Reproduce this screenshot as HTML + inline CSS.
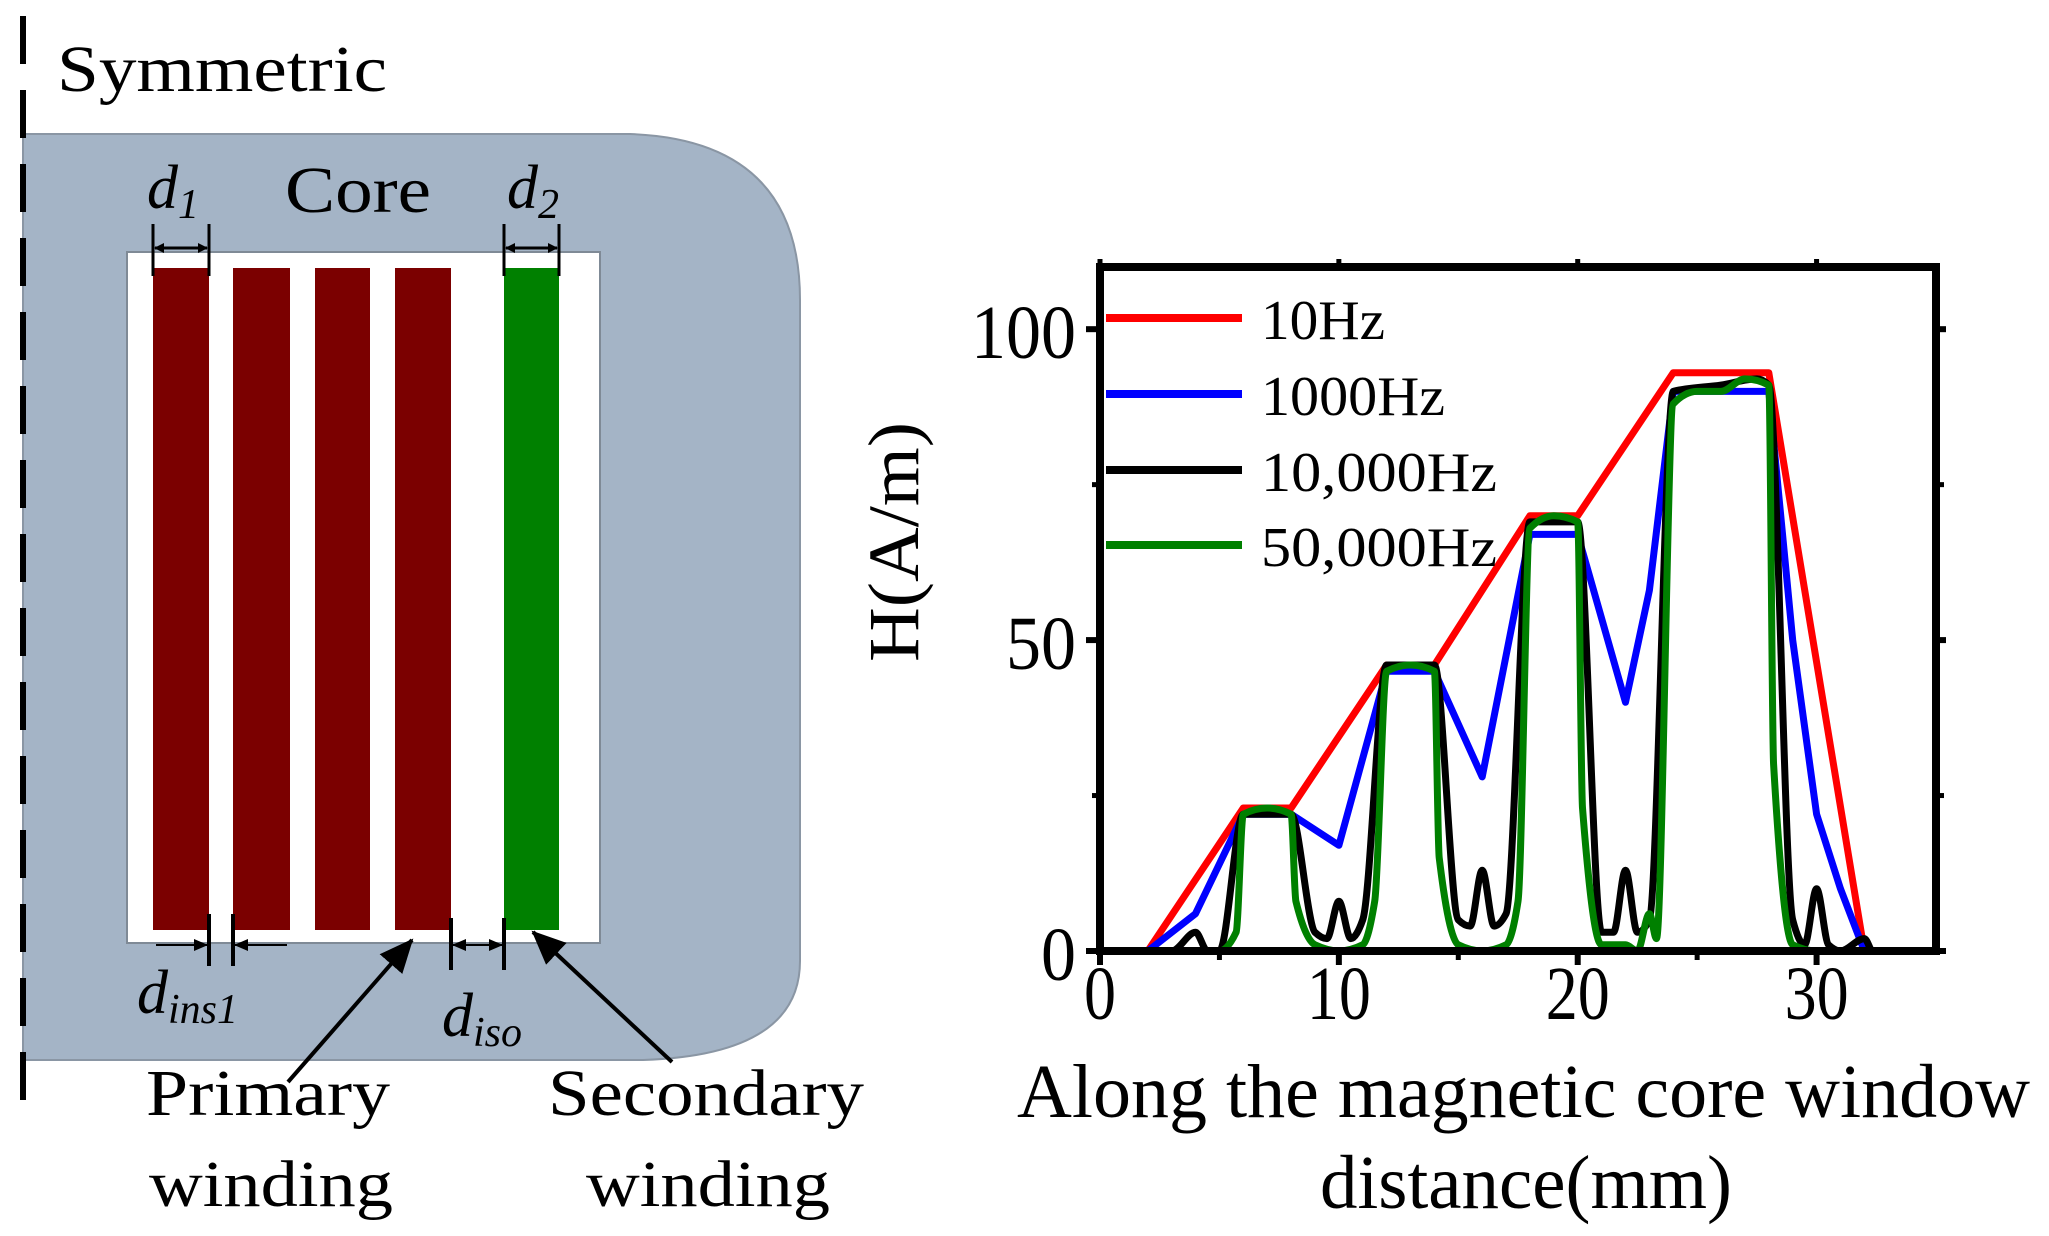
<!DOCTYPE html>
<html><head><meta charset="utf-8"><style>
html,body{margin:0;padding:0;background:#fff;}
svg{display:block;font-family:"Liberation Serif",serif;}
</style></head><body>
<svg width="2049" height="1236" viewBox="0 0 2049 1236">
<defs>
<marker id="ah" markerWidth="10" markerHeight="10" refX="9" refY="5" orient="auto" markerUnits="userSpaceOnUse" viewBox="0 0 10 10">
<path d="M0,0 L10,5 L0,10 z" fill="#000"/></marker>
<marker id="ahs" markerWidth="14" markerHeight="14" refX="13" refY="7" orient="auto" markerUnits="userSpaceOnUse" viewBox="0 0 14 14">
<path d="M0,1 L14,7 L0,13 z" fill="#000"/></marker>
<marker id="ahb" markerWidth="34" markerHeight="30" refX="32" refY="15" orient="auto" markerUnits="userSpaceOnUse" viewBox="0 0 34 30">
<path d="M0,0 L34,15 L0,30 z" fill="#000"/></marker>
</defs>

<g>
<path d="M23,134 L630,134 Q800,140 800,300 L800,961 Q800,1055 643,1060 L23,1060 Z" fill="#a4b4c6" stroke="#8a96a4" stroke-width="2"/>
<rect x="127" y="252" width="473" height="691" fill="#fff" stroke="#7f8a96" stroke-width="2"/>
<rect x="153" y="268" width="56" height="662" fill="#7b0000"/>
<rect x="233" y="268" width="57" height="662" fill="#7b0000"/>
<rect x="315" y="268" width="55" height="662" fill="#7b0000"/>
<rect x="395" y="268" width="56" height="662" fill="#7b0000"/>
<rect x="504" y="268" width="55" height="662" fill="#008000"/>
<line x1="23" y1="16" x2="23" y2="1103" stroke="#000" stroke-width="6" stroke-dasharray="48,26"/>
<text x="57" y="91" font-size="66" textLength="330" lengthAdjust="spacingAndGlyphs">Symmetric</text>
<text x="285" y="212" font-size="66" textLength="146" lengthAdjust="spacingAndGlyphs">Core</text>
<text x="147" y="208" font-size="62" font-style="italic">d<tspan font-size="42" dy="10">1</tspan></text>
<text x="507" y="208" font-size="62" font-style="italic">d<tspan font-size="42" dy="10">2</tspan></text>
<g stroke="#000" stroke-width="3">
<line x1="153" y1="224" x2="153" y2="276"/><line x1="209" y1="224" x2="209" y2="276"/>
<line x1="170" y1="248" x2="155" y2="248" marker-end="url(#ah)"/><line x1="190" y1="248" x2="207" y2="248" marker-end="url(#ah)"/><line x1="165" y1="248" x2="195" y2="248"/>
</g>
<g stroke="#000" stroke-width="3">
<line x1="504" y1="224" x2="504" y2="276"/><line x1="559" y1="224" x2="559" y2="276"/>
<line x1="525" y1="248" x2="506" y2="248" marker-end="url(#ah)"/><line x1="540" y1="248" x2="557" y2="248" marker-end="url(#ah)"/><line x1="520" y1="248" x2="545" y2="248"/>
</g>
<g stroke="#000">
<line x1="209" y1="914" x2="209" y2="966" stroke-width="4"/><line x1="233" y1="914" x2="233" y2="966" stroke-width="4"/>
<line x1="156" y1="945" x2="207" y2="945" stroke-width="2" marker-end="url(#ahs)"/>
<line x1="287" y1="945" x2="235" y2="945" stroke-width="2" marker-end="url(#ahs)"/>
</g>
<g stroke="#000">
<line x1="451" y1="918" x2="451" y2="970" stroke-width="4"/><line x1="504" y1="918" x2="504" y2="970" stroke-width="4"/>
<line x1="478" y1="945" x2="453" y2="945" stroke-width="2" marker-end="url(#ahs)"/>
<line x1="477" y1="945" x2="502" y2="945" stroke-width="2" marker-end="url(#ahs)"/>
</g>
<text x="137" y="1013" font-size="62" font-style="italic">d<tspan font-size="42" dy="10">ins1</tspan></text>
<text x="442" y="1036" font-size="62" font-style="italic">d<tspan font-size="42" dy="10">iso</tspan></text>
<line x1="288" y1="1082" x2="412" y2="940" stroke="#000" stroke-width="4" marker-end="url(#ahb)"/>
<line x1="672" y1="1062" x2="533" y2="932" stroke="#000" stroke-width="4" marker-end="url(#ahb)"/>
<text x="146" y="1115" font-size="66" textLength="244" lengthAdjust="spacingAndGlyphs">Primary</text>
<text x="149" y="1206" font-size="66" textLength="244" lengthAdjust="spacingAndGlyphs">winding</text>
<text x="548" y="1115" font-size="66" textLength="316" lengthAdjust="spacingAndGlyphs">Secondary</text>
<text x="586" y="1206" font-size="66" textLength="244" lengthAdjust="spacingAndGlyphs">winding</text>
</g>

<g id="chart"></g>

<script>
const xTicks = [0, 10, 20, 30];
const xMinor = [5, 15, 25];
const yTicks = [0, 50, 100];
const yMinor = [25, 75];
const seriesNames = ["10Hz", "1000Hz", "10,000Hz", "50,000Hz"];
const seriesColors = ["#ff0000", "#0000ff", "#000000", "#008000"];
const redX = [2, 6, 8, 12, 14, 18, 20, 24, 28, 32, 34];
const redY = [0, 23, 23, 46, 46, 70, 70, 93, 93, 0, 0];
const blueX = [2, 4, 6, 8, 10, 12, 14, 16, 18, 20, 22, 23, 24, 28, 29, 30, 31, 32];
const blueY = [0, 6, 22, 22, 17, 45, 45, 28, 67, 67, 40, 58, 90, 90, 50, 22, 10, 0];
const blackX = [2.3, 3, 4, 4.5, 5, 6, 8, 9, 9.5, 10, 10.5, 11, 12, 14, 15, 15.5, 16, 16.5, 17, 18, 20, 21, 21.5, 22, 22.5, 23, 24, 26, 27.5, 28, 29, 29.5, 30, 30.5, 31, 32, 32.3];
const blackY = [0, 0, 3, 0, 0, 22, 22, 3, 2, 8, 2, 5, 46, 46, 5, 4, 13, 4, 6, 69, 69, 3, 3, 13, 3, 5, 90, 91, 92, 91, 5, 1, 10, 1, 0, 2, 0];
const greenX = [2, 5, 5.7, 6, 7, 8, 8.2, 9, 10, 11, 11.5, 12, 13, 14, 14.2, 15, 16, 17, 17.5, 18, 19, 20, 20.2, 21, 22, 22.5, 23, 23.3, 24, 25, 26, 27, 28, 28.2, 29, 30, 34];
const greenY = [0, 0, 3, 22, 23, 22, 8, 1, 0, 1, 8, 45, 46, 45, 15, 1, 0, 1, 8, 68, 70, 69, 23, 1, 1, 0, 6, 2, 88, 90, 90, 92, 91, 30, 1, 0, 0];

const L = 1100, R = 1936, T = 267, B = 951, XMAX = 35, YMAX = 110;
const sx = v => L + v / XMAX * (R - L);
const sy = v => B - v / YMAX * (B - T);
const NS = "http://www.w3.org/2000/svg";
const chart = document.getElementById("chart");
function mk(tag, attrs, parent) {
  const e = document.createElementNS(NS, tag);
  for (const k in attrs) e.setAttribute(k, attrs[k]);
  (parent || chart).appendChild(e);
  return e;
}
function monoPath(xs, ys) {
  const n = xs.length, px = xs.map(sx), py = ys.map(sy);
  const d = [], m = new Array(n);
  for (let i = 0; i < n - 1; i++) d.push((py[i + 1] - py[i]) / (px[i + 1] - px[i]));
  m[0] = d[0]; m[n - 1] = d[n - 2];
  for (let i = 1; i < n - 1; i++) m[i] = (d[i - 1] * d[i] <= 0) ? 0 : 2 / (1 / d[i - 1] + 1 / d[i]);
  let s = "M" + px[0].toFixed(1) + "," + py[0].toFixed(1);
  for (let i = 0; i < n - 1; i++) {
    const h = (px[i + 1] - px[i]) / 3;
    s += " C" + (px[i] + h).toFixed(1) + "," + (py[i] + m[i] * h).toFixed(1) + " " +
      (px[i + 1] - h).toFixed(1) + "," + (py[i + 1] - m[i + 1] * h).toFixed(1) + " " +
      px[i + 1].toFixed(1) + "," + py[i + 1].toFixed(1);
  }
  return s;
}
const allX = [redX, blueX, blackX, greenX];
const allY = [redY, blueY, blackY, greenY];
const clip = mk("clipPath", {id: "pc"});
mk("rect", {x: L, y: T, width: R - L, height: B - T}, clip);
const sg = mk("g", {"clip-path": "url(#pc)"});


for (let s = 0; s < 4; s++) {
  const attrs = {fill: "none", stroke: seriesColors[s], "stroke-width": 7, "stroke-linejoin": "round"};
  let p;
  if (s <= 1) {
    attrs.points = allX[s].map((x, i) => sx(x).toFixed(1) + "," + sy(allY[s][i]).toFixed(1)).join(" ");
    p = mk("polyline", attrs, sg);
  } else {
    attrs.d = monoPath(allX[s], allY[s]);
    p = mk("path", attrs, sg);
  }
  
  
}
const frame = mk("rect", {x: L, y: T, width: R - L, height: B - T, fill: "none", stroke: "#000", "stroke-width": 8});


xTicks.forEach(v => {
  const t = mk("line", {x1: sx(v), x2: sx(v), y1: B, y2: B + 14, stroke: "#000", "stroke-width": 6});
  
  
  const t2 = mk("line", {x1: sx(v), x2: sx(v), y1: T, y2: T - 8, stroke: "#000", "stroke-width": 5});
  
  
  const lb = mk("text", {x: sx(v), y: 1019, "font-size": 76, "text-anchor": "middle", textLength: String(v).length * 32, lengthAdjust: "spacingAndGlyphs"});
  lb.textContent = v;
  
  
});
xMinor.forEach(v => {
  const t = mk("line", {x1: sx(v), x2: sx(v), y1: B, y2: B + 9, stroke: "#000", "stroke-width": 5});
  
  
});
yTicks.forEach(v => {
  const t = mk("line", {x1: L - 14, x2: L, y1: sy(v), y2: sy(v), stroke: "#000", "stroke-width": 6});
  
  
  const t2 = mk("line", {x1: R, x2: R + 10, y1: sy(v), y2: sy(v), stroke: "#000", "stroke-width": 6});
  
  
  const lb = mk("text", {x: 1076, y: sy(v) + 29, "font-size": 76, "text-anchor": "end", textLength: String(v).length * 35, lengthAdjust: "spacingAndGlyphs"});
  lb.textContent = v;
  
  
});
yMinor.forEach(v => {
  const t = mk("line", {x1: L - 8, x2: L, y1: sy(v), y2: sy(v), stroke: "#000", "stroke-width": 5});
  
  
  const t2 = mk("line", {x1: R, x2: R + 8, y1: sy(v), y2: sy(v), stroke: "#000", "stroke-width": 5});
  
  
});
const legY = [318, 394, 470, 545];
const legWidths = [124, 184, 236, 236];
for (let s = 0; s < 4; s++) {
  const ln = mk("line", {x1: 1106, x2: 1242, y1: legY[s], y2: legY[s], stroke: seriesColors[s], "stroke-width": 8});
  
  
  const tx = mk("text", {x: 1261, y: legY[s] + 21, "font-size": 56, textLength: legWidths[s], lengthAdjust: "spacingAndGlyphs"});
  tx.textContent = seriesNames[s];
  
  
}
const yt = mk("text", {x: 0, y: 0, "font-size": 72, "text-anchor": "middle", textLength: 240, lengthAdjust: "spacingAndGlyphs", transform: "translate(918,542) rotate(-90)"});
yt.textContent = "H(A/m)";


const xt = mk("text", {x: 1017, y: 1117, "font-size": 76, textLength: 1013, lengthAdjust: "spacingAndGlyphs"});
xt.textContent = "Along the magnetic core window";


const xt2 = mk("text", {x: 1320, y: 1208, "font-size": 76, textLength: 412, lengthAdjust: "spacingAndGlyphs"});
xt2.textContent = "distance(mm)";


</script>
</svg>
</body></html>
